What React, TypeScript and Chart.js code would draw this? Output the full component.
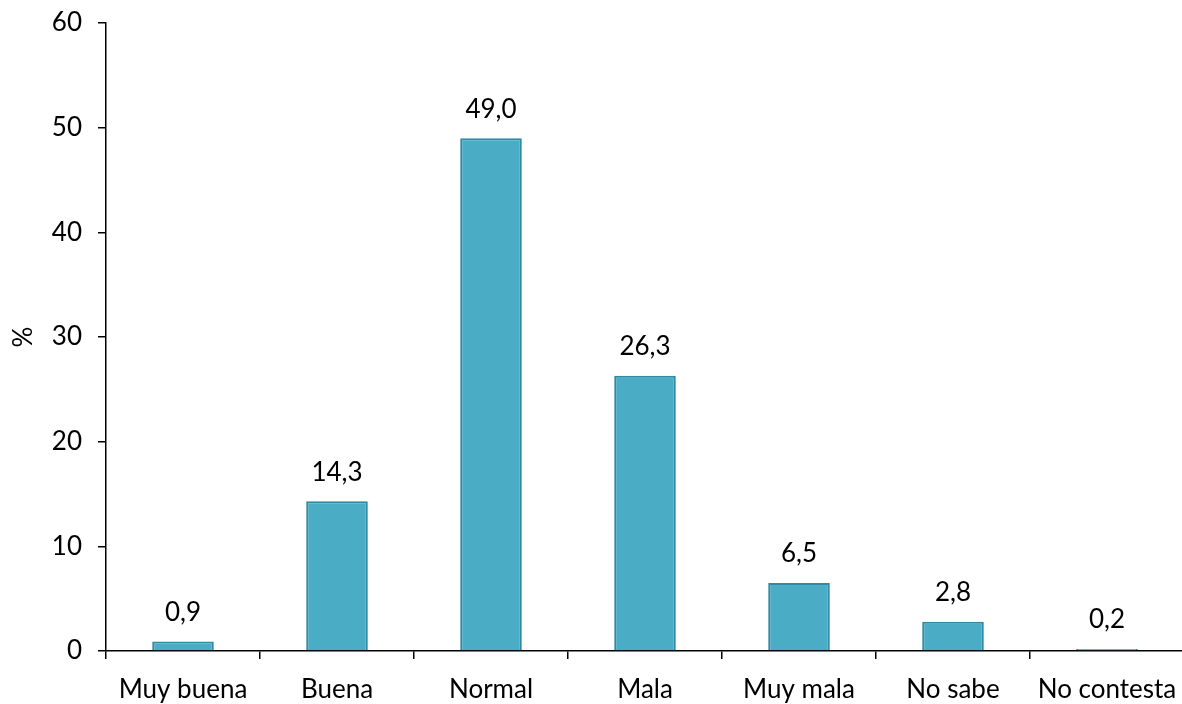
import React, { useEffect, useRef } from "react";
import { Chart, registerables } from "chart.js";

Chart.register(...registerables);

const categories = ["Muy buena", "Buena", "Normal", "Mala", "Muy mala", "No sabe", "No contesta"];
const values = [0.9, 14.3, 49.0, 26.3, 6.5, 2.8, 0.2];
const yTicks = [0, 10, 20, 30, 40, 50, 60];
const yTitle = "%";

const FONT = "Lato, 'Open Sans', sans-serif";
const FS = 26;

const labelPlugin = {
  id: "barLabels",
  afterDatasetsDraw(chart: any) {
    const ctx = chart.ctx;
    const meta = chart.getDatasetMeta(0);
    ctx.save();
    ctx.font = `${FS}px ${FONT}`;
    ctx.fillStyle = "#000";
    ctx.textAlign = "center";
    ctx.textBaseline = "bottom";
    meta.data.forEach((bar: any, i: number) => {
      const txt = values[i].toFixed(1).replace(".", ",");
      ctx.fillText(txt, bar.x, bar.y - 16);
    });
    ctx.restore();
  },
};

export default function App() {
  const ref = useRef<HTMLCanvasElement | null>(null);
  useEffect(() => {
    document.body.style.margin = "0";
    if (!ref.current) return;
    const chart = new Chart(ref.current, {
      type: "bar",
      data: {
        labels: categories,
        datasets: [
          {
            data: values,
            backgroundColor: "#4BACC6",
            borderColor: "#2F8AA3",
            borderWidth: 2,
            barPercentage: 0.4,
            categoryPercentage: 1,
          },
        ],
      },
      plugins: [labelPlugin],
      options: {
        animation: false,
        responsive: false,
        maintainAspectRatio: false,
        layout: { padding: { top: 23, left: 0, right: 0, bottom: 0 } },
        plugins: { legend: { display: false }, tooltip: { enabled: false } },
        scales: {
          x: {
            offset: true,
            grid: { display: true, drawOnChartArea: false, tickLength: 8, color: "#000", lineWidth: 1.5 },
            border: { display: true, color: "#000", width: 1.5 },
            ticks: { color: "#000", font: { family: FONT, size: FS }, padding: 15, maxRotation: 0, autoSkip: false },
            afterFit: (s: any) => { s.height = 53; s.paddingLeft = 0; s.paddingRight = 0; },
          },
          y: {
            min: 0,
            max: 60,
            afterBuildTicks: (s: any) => { s.ticks = yTicks.map((v) => ({ value: v })); },
            grid: { display: true, drawOnChartArea: false, tickLength: 8, color: "#000", lineWidth: 1.5 },
            border: { display: true, color: "#000", width: 1.5 },
            ticks: { color: "#000", font: { family: FONT, size: FS }, padding: 16 },
            title: { display: true, text: yTitle, color: "#000", font: { family: FONT, size: FS }, padding: { top: 8, bottom: 0 } },
            afterFit: (s: any) => { s.width = 106; s.paddingTop = 0; s.paddingBottom = 0; },
          },
        },
      },
    });
    return () => chart.destroy();
  }, []);
  return (
    <div style={{ position: "fixed", left: 0, top: 0, width: 1182, height: 704, overflow: "hidden", background: "#fff" }}>
      <canvas ref={ref} width={1184} height={704} style={{ width: 1184, height: 704, display: "block" }} />
    </div>
  );
}
